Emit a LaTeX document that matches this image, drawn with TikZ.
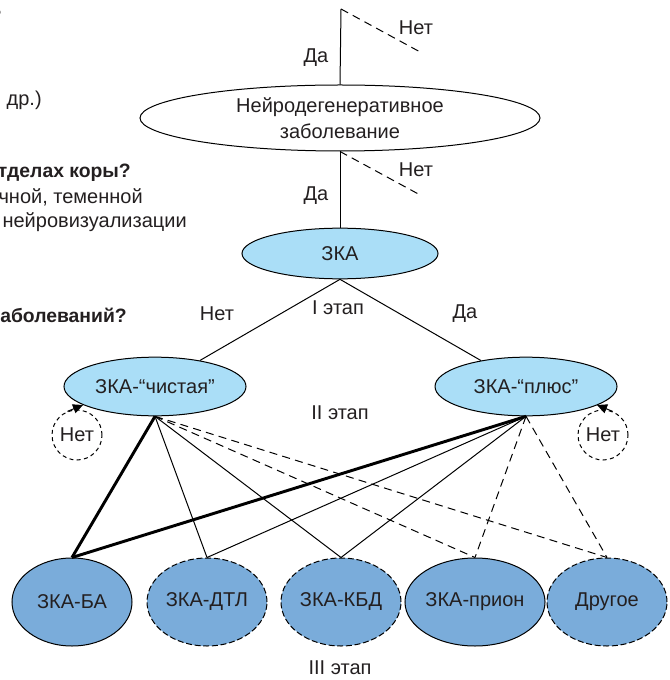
\documentclass[tikz,border=0pt]{standalone}
\usepackage{fontspec}
\setmainfont{Liberation Sans}
\usetikzlibrary{shapes.geometric,arrows.meta}

\definecolor{zkablue}{RGB}{170,222,247}
\definecolor{leafblue}{RGB}{122,172,218}
\definecolor{inkgray}{RGB}{35,31,32}

\tikzset{
  txt/.style={font=\fontsize{15}{19.5}\selectfont, text=inkgray},
  oval/.style={ellipse, draw, line width=0.75pt, inner sep=0pt, align=center, txt},
  zkaoval/.style={oval, fill=zkablue},
  leaf/.style={oval, fill=leafblue, minimum width=90pt, minimum height=66pt},
  leafdash/.style={leaf, dash pattern=on 4.5pt off 2pt},
  loopno/.style={circle, draw, line width=0.75pt, dash pattern=on 3pt off 2.5pt, minimum size=37.5pt, inner sep=0pt, txt},
  lbl/.style={inner sep=0.75pt, txt},
  frag/.style={anchor=east, inner sep=0pt, txt},
  boldfrag/.style={frag, font=\fontsize{14.5}{19.5}\selectfont\bfseries},
  link/.style={line width=0.75pt},
  strong/.style={line width=2.2pt},
  maybe/.style={line width=0.75pt, dash pattern=on 6pt off 4pt},
  looptip/.style={line width=0.75pt, -{Triangle[length=7.5pt,width=7pt]}}
}

\begin{document}
\begin{tikzpicture}[x=0.75pt,y=0.75pt,yscale=-1,xscale=1]
	\clip (0,0) rectangle (669,680);
	
	% text cut off at the left edge
	\node [boldfrag] (fragq) at (2,16) {?};
	\node [frag] (fragetc) at (42,100) {и др.)};
	\node [boldfrag] (fragcortex) at (131,173) {тделах коры?};
	\node [frag] (fraglobe) at (143,197) {чной, теменной};
	\node [frag] (fragimg) at (187,222) {нейровизуализации};
	\node [boldfrag] (fragdis) at (127,315) {аболеваний?};
	
	% main nodes
	\node [oval, fill=white, minimum width=300pt, minimum height=49.5pt] (nd) at (340,118) {Нейродегенеративное\\заболевание};
	\node [zkaoval, minimum width=147pt, minimum height=38pt] (zka) at (340,253.5) {ЗКА};
	\node [zkaoval, minimum width=136.5pt, minimum height=44pt] (pure) at (155,386.5) {ЗКА-“чистая”};
	\node [zkaoval, minimum width=136.5pt, minimum height=44pt] (plus) at (526,386.5) {ЗКА-“плюс”};
	
	% third stage
	\node [leaf] (ba) at (72,602) {ЗКА-БА};
	\node [leafdash] (dtl) at (207,602) {ЗКА-ДТЛ};
	\node [leafdash] (kbd) at (341,602) {ЗКА-КБД};
	\node [leaf] (prion) at (475,602) {ЗКА-прион};
	\node [leafdash] (other) at (607,602) {Другое};
	
	% loops
	\node [loopno] (noL) at (77,435) {Нет};
	\node [loopno] (noR) at (603,435) {Нет};
	\coordinate (tipL) at (83,405);
	\coordinate (tipR) at (597,405);
	\draw [looptip] (noL.112) -- (tipL);
	\draw [looptip] (noR.68) -- (tipR);
	
	% free ends
	\coordinate (start) at (341,9);
	\coordinate (startno) at (422,53);
	\coordinate (ndno) at (422,196);
	
	% connectors
	\draw [link] (start) -- (nd.north);
	\draw [maybe] (start) -- (startno);
	\draw [link] (nd.south) -- (zka.north);
	\draw [maybe] (nd.south) -- (ndno);
	\draw [link] (zka.south) -- (pure);
	\draw [link] (zka.south) -- (plus);
	
	\draw [strong] (pure.south) -- (ba.north);
	\draw [link] (pure.south) -- (dtl.north);
	\draw [link] (pure.south) -- (kbd.north);
	\draw [maybe] (pure.south) -- (prion.north);
	\draw [maybe] (pure.south) -- (other.north);
	
	\draw [strong] (plus.south) -- (ba.north);
	\draw [link] (plus.south) -- (dtl.north);
	\draw [link] (plus.south) -- (kbd.north);
	\draw [maybe] (plus.south) -- (prion.north);
	\draw [maybe] (plus.south) -- (other.north);
	
	% Text Node
	\node [lbl] (yes1) at (316,58) {Да};
	\node [lbl] (no1) at (416,28) {Нет};
	\node [lbl] (yes2) at (316,196) {Да};
	\node [lbl] (no2) at (416,170) {Нет};
	\node [lbl] (no3) at (217,314) {Нет};
	\node [lbl] (yes3) at (465,314) {Да};
	\node [lbl] (stage1) at (338,308) {I этап};
	\node [lbl] (stage2) at (340,413) {II этап};
	\node [lbl] (stage3) at (340,668) {III этап};
\end{tikzpicture}
\end{document}
